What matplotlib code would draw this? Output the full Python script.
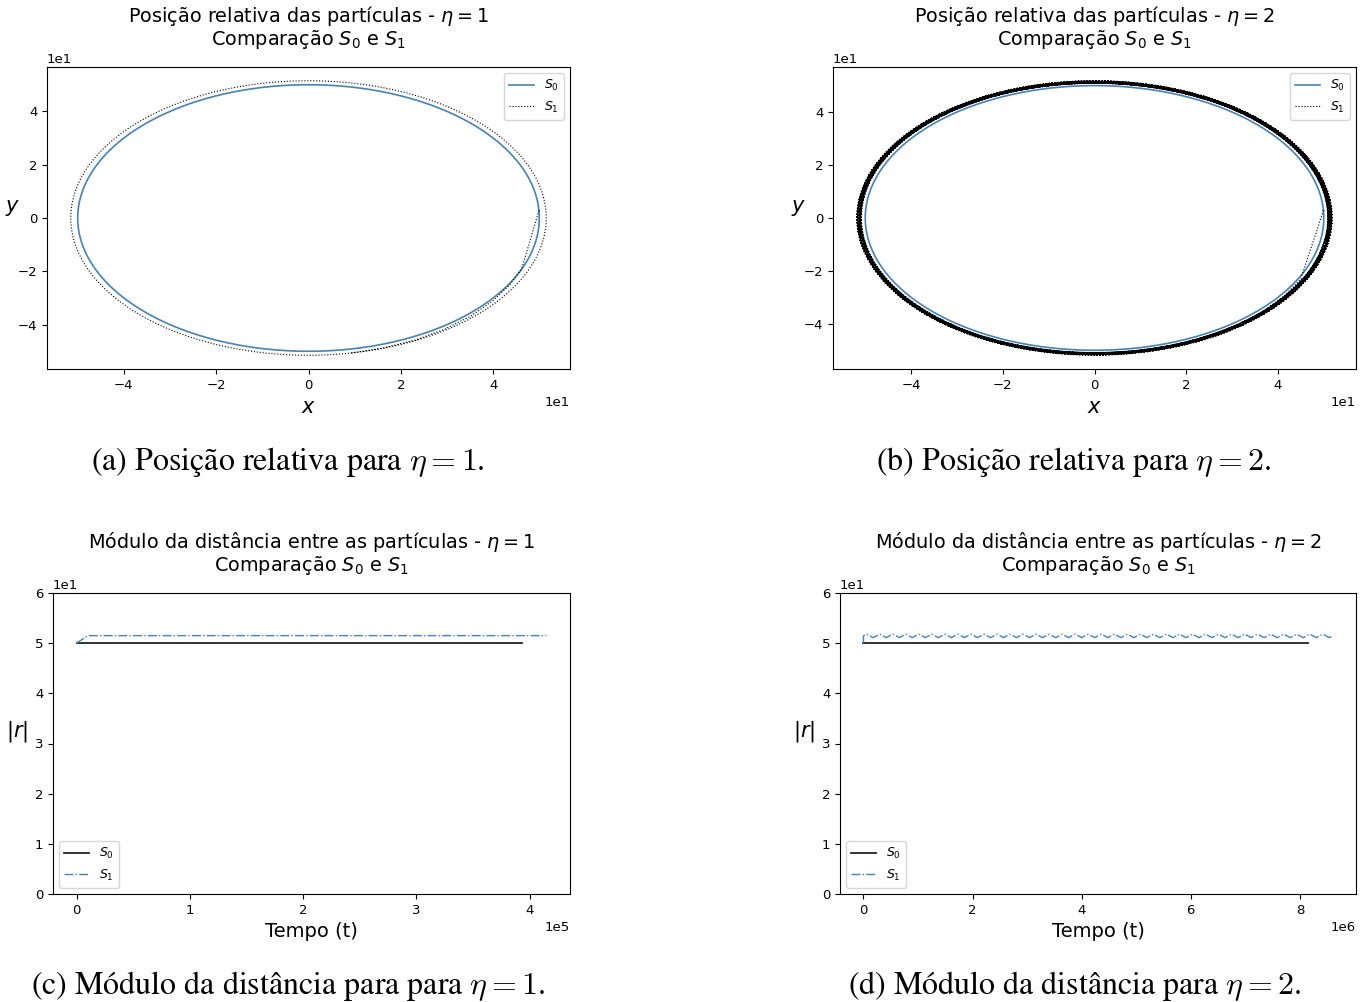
import numpy as np
import matplotlib.pyplot as plt

# radius of the S0 solution (circular orbit)
R_S0 = 50.0

# eta = 1 : |r| over time
t_end_s0_eta1 = 3.93e5
t_s1_eta1 = [0.0, 0.1e5, 4.15e5]
r_s1_eta1 = [50.0, 51.5, 51.5]

# eta = 1 : S1 first steps (angle in degrees, radius), then a closed orbit
ang_s1_eta1 = [3.2, -22.6, -30.0, -38.0, -46.5, -55.0, -63.0, -72.0, -80.0]
rad_s1_eta1 = [50.0, 50.0, 50.3, 50.6, 50.9, 51.1, 51.3, 51.4, 51.5]
r_orbit_eta1 = 51.5

# eta = 2 : |r| over time, S1 oscillates around 51.45
t_end_s0_eta2 = 8.15e6
t_end_s1_eta2 = 8.6e6
r_cycle_eta2 = [51.45, 51.8, 51.45, 51.1]
n_cycles_eta2 = 36

# eta = 2 : S1 first steps and radius at the start of each following orbit
ang_s1_eta2 = [3.2, -27.0, -35.0, -45.0, -55.0]
rad_s1_eta2 = [50.0, 50.5, 50.8, 51.1, 51.3]
orbit_r_eta2 = [51.3, 51.6, 51.9, 51.7, 51.4, 51.1, 50.8, 51.0,
                51.2, 51.5, 51.8, 51.6, 51.3, 51.0, 50.9, 51.2,
                51.4, 51.7, 51.85, 51.5, 51.15, 50.85, 51.05, 51.35]

BLUE = 'steelblue'


def polar(ang_deg, rad):
    a = np.deg2rad(np.asarray(ang_deg, dtype=float))
    r = np.asarray(rad, dtype=float)
    return r * np.cos(a), r * np.sin(a)


fig = plt.figure(figsize=(13.71, 10.02), dpi=100)
W, H = 1371.0, 1002.0


def add_ax(x0, y0, x1, y1):
    return fig.add_axes([x0 / W, 1 - y1 / H, (x1 - x0) / W, (y1 - y0) / H])


ax_a = add_ax(47, 67, 570, 369)
ax_b = add_ax(833, 67, 1356, 369)
ax_c = add_ax(53, 593, 570, 894)
ax_d = add_ax(840, 593, 1356, 894)

TITLE_KW = dict(fontsize=13.9, pad=16, linespacing=1.0)

# circular S0 orbit, drawn once
s0_ang = np.linspace(3.2, 3.2 - 360.0, 721)
s0_x, s0_y = polar(s0_ang, np.full_like(s0_ang, R_S0))

# ---- (a) position, eta = 1
x1a, y1a = polar(ang_s1_eta1, rad_s1_eta1)
orb_ang = np.linspace(ang_s1_eta1[-1], ang_s1_eta1[-1] - 360.0, 721)
xo, yo = polar(orb_ang, np.full_like(orb_ang, r_orbit_eta1))
s1_x = np.concatenate([x1a, xo])
s1_y = np.concatenate([y1a, yo])
ax_a.plot(s0_x, s0_y, color=BLUE, lw=1.2, label='$S_0$')
ax_a.plot(s1_x, s1_y, color='k', ls=':', lw=0.8, label='$S_1$')
ax_a.set_title('Posição relativa das partículas - $\\eta = 1$\nComparação $S_0$ e $S_1$',
               **TITLE_KW)

# ---- (b) position, eta = 2 : radius drifts from one orbit value to the next
x1b, y1b = polar(ang_s1_eta2, rad_s1_eta2)
xs, ys = [x1b], [y1b]
start = ang_s1_eta2[-1]
for r_from, r_to in zip(orbit_r_eta2, orbit_r_eta2[1:] + orbit_r_eta2[:1]):
    a = np.linspace(start, start - 373.0, 747)
    x, y = polar(a, np.linspace(r_from, r_to, a.size))
    xs.append(x)
    ys.append(y)
    start -= 373.0
ax_b.plot(s0_x, s0_y, color=BLUE, lw=1.2, label='$S_0$')
ax_b.plot(np.concatenate(xs), np.concatenate(ys), color='k', ls=':', lw=0.8,
          label='$S_1$')
ax_b.set_title('Posição relativa das partículas - $\\eta = 2$\nComparação $S_0$ e $S_1$',
               **TITLE_KW)

for ax in (ax_a, ax_b):
    ax.set_xlabel('$x$', fontsize=15)
    ax.set_ylabel('$y$', fontsize=15, rotation=0)
    ax.set_xticks([-40, -20, 0, 20, 40])
    ax.set_yticks([-40, -20, 0, 20, 40])
    ax.legend(loc='upper right', fontsize=9)

# ---- (c) |r|, eta = 1
ax_c.plot([0.0, t_end_s0_eta1], [R_S0, R_S0], color='#222222', lw=1.3, label='$S_0$')
ax_c.plot(t_s1_eta1, r_s1_eta1, color=BLUE, ls='-.', lw=1.0, label='$S_1$')
ax_c.set_title('Módulo da distância entre as partículas - $\\eta = 1$\nComparação $S_0$ e $S_1$',
               **TITLE_KW)

# ---- (d) |r|, eta = 2
r_d = np.concatenate([[R_S0], np.tile(r_cycle_eta2, n_cycles_eta2), [r_cycle_eta2[0]]])
t_d = np.concatenate([[0.0], np.linspace(0.0, t_end_s1_eta2, len(r_d) - 1)])
ax_d.plot([0.0, t_end_s0_eta2], [R_S0, R_S0], color='#222222', lw=1.3, label='$S_0$')
ax_d.plot(t_d, r_d, color=BLUE, ls='-.', lw=1.0, label='$S_1$')
ax_d.set_title('Módulo da distância entre as partículas - $\\eta = 2$\nComparação $S_0$ e $S_1$',
               **TITLE_KW)

for ax in (ax_c, ax_d):
    ax.set_ylim(0, 60)
    ax.set_xlabel('Tempo (t)', fontsize=14)
    ax.set_ylabel('$|r|$', fontsize=15, rotation=0, labelpad=13)
    ax.legend(loc='lower left', fontsize=9)
ax_d.set_xticks([0, 2e6, 4e6, 6e6, 8e6])

for ax in (ax_a, ax_b, ax_c, ax_d):
    ax.ticklabel_format(style='sci', axis='both', scilimits=(0, 0))
    ax.tick_params(labelsize=9.5)
    ax.xaxis.get_offset_text().set_fontsize(9.5)
    ax.yaxis.get_offset_text().set_fontsize(9.5)

# subfigure captions
cap = dict(ha='center', va='center', fontsize=23,
           family='STIXGeneral', math_fontfamily='cm')
fig.text(288 / W, 1 - 462 / H, '(a) Posição relativa para $\\eta = 1$.', **cap)
fig.text(1074 / W, 1 - 462 / H, '(b) Posição relativa para $\\eta = 2$.', **cap)
fig.text(288 / W, 1 - 986 / H, '(c) Módulo da distância para para $\\eta = 1$.', **cap)
fig.text(1075 / W, 1 - 986 / H, '(d) Módulo da distância para $\\eta = 2$.', **cap)

fig.savefig('out.png', dpi=100)
